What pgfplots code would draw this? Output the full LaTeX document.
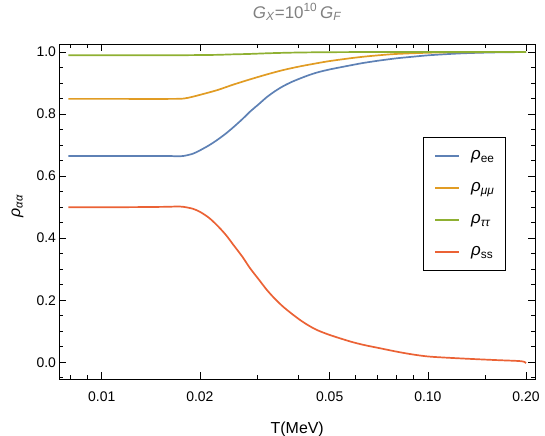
\documentclass[border=0pt]{standalone}
\usepackage{fontspec}
\setmainfont{Liberation Sans}
\usepackage{pgfplots}
\pgfplotsset{compat=1.18}

\definecolor{cee}{RGB}{94,129,181}
\definecolor{cmm}{RGB}{225,156,36}
\definecolor{ctt}{RGB}{143,176,50}
\definecolor{css}{RGB}{235,98,53}
\definecolor{tgray}{RGB}{128,128,128}

\begin{document}
\begin{tikzpicture}
\path[use as bounding box] (-59.5bp,-57bp) rectangle (485.5bp,379bp);
\begin{axis}[
    scale only axis,
    width=475.5bp, height=335bp,
    at={(0,0)}, anchor=south west,
    xmode=log,
    xmin=0.00742, xmax=0.2131,
    ymin=-0.054, ymax=1.026,
    xtick={0.01,0.02,0.05,0.1,0.2},
    xticklabels={0.01,0.02,0.05,0.10,0.20},
    minor xtick={0.008,0.009,0.03,0.04,0.06,0.07,0.08,0.09,0.15},
    ytick={0,0.2,0.4,0.6,0.8,1.0},
    yticklabels={0.0,0.2,0.4,0.6,0.8,1.0},
    minor ytick={-0.05,0.05,0.1,0.15,0.25,0.3,0.35,0.45,0.5,0.55,0.65,0.7,0.75,0.85,0.9,0.95},
    major tick length=7bp, minor tick length=4bp,
    tick style={black, line width=0.6bp},
    axis line style={line width=0.8bp},
    tick label style={font=\fontsize{14}{17}\selectfont},
    xticklabel style={anchor=base, yshift=-22bp},
    title={\textit{G}\textsubscript{\textit{X}}=10\textsuperscript{10}\,\textit{G}\textsubscript{\textit{F}}},
    title style={at={([yshift=20bp]axis description cs:0.5,1)}, anchor=base, yshift=0pt,
        text=tgray, font=\fontsize{17}{20}\selectfont},
    xlabel={T(MeV)},
    xlabel style={at={([yshift=-54bp]axis description cs:0.5,0)}, anchor=base,
        font=\fontsize{16}{19}\selectfont},
    ylabel={\textit{ρ}\textsubscript{\textit{αα}}},
    ylabel style={at={([xshift=-42bp]axis description cs:0,0.516)}, anchor=center,
        font=\fontsize{16}{19}\selectfont},
    legend style={at={(0.939,0.722)}, anchor=north east, draw=black, line width=0.8bp,
        font=\fontsize{17}{20}\selectfont, inner xsep=11bp, inner ysep=10bp,
        column sep=11bp, row sep=15bp,
        nodes={inner sep=0pt, text height=12bp, text depth=5bp}},
    legend cell align=left,
    legend image code/.code={\draw[#1] (0bp,0bp) -- (24bp,0bp);},
    every axis plot/.append style={line width=1.7bp, smooth},
]
\addplot[cee] coordinates {
(0.0079,0.665) (0.010,0.665) (0.012,0.665) (0.014,0.665) (0.016,0.665)
(0.0170,0.664) (0.0178,0.665) (0.0190,0.672) (0.0200,0.683) (0.0213,0.699)
(0.02255,0.716) (0.0240,0.737) (0.02535,0.758) (0.0270,0.784) (0.0285,0.808)
(0.0303,0.832) (0.0321,0.855) (0.0340,0.874) (0.0360,0.890) (0.0383,0.904)
(0.0406,0.915) (0.0430,0.925) (0.0457,0.934) (0.0500,0.944) (0.0578,0.957)
(0.0635,0.965) (0.0714,0.973) (0.0804,0.980) (0.0900,0.985) (0.1017,0.990)
(0.128,0.996) (0.162,0.999) (0.200,1.000)
};
\addlegendentry{\textit{ρ}\textsubscript{ee}}
\addplot[cmm] coordinates {
(0.0079,0.849) (0.012,0.849) (0.016,0.849) (0.0178,0.850) (0.019,0.856)
(0.020,0.862) (0.02255,0.877) (0.0253,0.895) (0.0285,0.912) (0.0321,0.928)
(0.0360,0.942) (0.0406,0.954) (0.0457,0.964) (0.050,0.971) (0.0578,0.980)
(0.0635,0.985) (0.0714,0.990) (0.0804,0.994) (0.1017,0.998) (0.13,0.9995)
(0.2,1.0)
};
\addlegendentry{\textit{ρ}\textsubscript{\textit{μμ}}}
\addplot[ctt] coordinates {
(0.0079,0.990) (0.012,0.990) (0.018,0.990) (0.020,0.9905) (0.0225,0.991)
(0.025,0.9925) (0.0285,0.994) (0.032,0.996) (0.036,0.9975) (0.04,0.9985)
(0.046,0.9993) (0.055,0.9998) (0.07,1.0) (0.2,1.0)
};
\addlegendentry{\textit{ρ}\textsubscript{\textit{ττ}}}
\addplot[css] coordinates {
(0.0079,0.500) (0.012,0.500) (0.0155,0.501) (0.0170,0.502) (0.0178,0.501)
(0.0190,0.495) (0.0200,0.485) (0.0213,0.466) (0.02255,0.442) (0.0240,0.411)
(0.02535,0.378) (0.0270,0.340) (0.0285,0.303) (0.0303,0.267) (0.0321,0.233)
(0.0340,0.204) (0.0360,0.179) (0.0383,0.156) (0.0406,0.136) (0.0430,0.119)
(0.0457,0.104) (0.050,0.088) (0.0578,0.067) (0.0635,0.056) (0.0714,0.045)
(0.0804,0.034) (0.090,0.025) (0.1017,0.018) (0.128,0.012) (0.162,0.007)
(0.190,0.004) (0.198,0.001) (0.200,-0.003)
};
\addlegendentry{\textit{ρ}\textsubscript{ss}}
\end{axis}
\end{tikzpicture}
\end{document}
